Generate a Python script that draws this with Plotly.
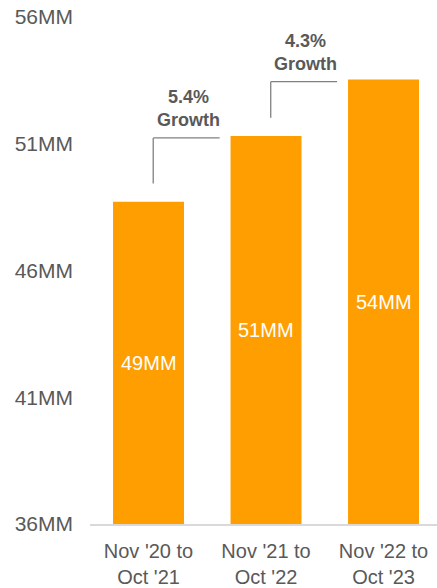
import plotly.graph_objects as go

categories = ["Nov '20 to<br>Oct '21", "Nov '21 to<br>Oct '22", "Nov '22 to<br>Oct '23"]
values = [48.71, 51.31, 53.53]
bar_labels = ["49MM", "51MM", "54MM"]
growth_labels = ["5.4%<br>Growth", "4.3%<br>Growth"]
y_ticks = [36, 41, 46, 51, 56]
y_ticktext = ["36MM", "41MM", "46MM", "51MM", "56MM"]

ORANGE = "#FF9E00"
GRAY_TXT = "#595959"
LINE = "#808080"
Y_MIN, Y_MAX = 36, 56

x_idx = list(range(len(categories)))

fig = go.Figure()
fig.add_trace(go.Bar(
    x=x_idx, y=values, marker_color=ORANGE, marker_line_width=0,
))

# value labels centred in the visible part of each bar
for i, lab in enumerate(bar_labels):
    fig.add_annotation(x=x_idx[i], y=(Y_MIN + values[i]) / 2, text=lab,
                       showarrow=False, xref="x", yref="y",
                       font=dict(size=20, color="white", family="Liberation Sans, Arial"))

# growth brackets: from bar i (left side) up to near top of bar i+1
for i, lab in enumerate(growth_labels):
    xv = x_idx[i] + 0.04
    xh = x_idx[i] + 0.605
    y0 = values[i] + 0.72
    y1 = values[i + 1] - 0.08
    fig.add_shape(type="line", x0=xv, x1=xv, y0=y0, y1=y1, xref="x", yref="y",
                  line=dict(color=LINE, width=1.3))
    fig.add_shape(type="line", x0=xv, x1=xh, y0=y1, y1=y1, xref="x", yref="y",
                  line=dict(color=LINE, width=1.3))
    fig.add_annotation(x=x_idx[i] + 0.34, y=y1 + 1.15, text="<b>" + lab + "</b>",
                       showarrow=False, xref="x", yref="y",
                       font=dict(size=18, color=GRAY_TXT, family="Liberation Sans, Arial"))

fig.update_layout(
    width=437, height=588,
    margin=dict(l=90, r=0, t=17, b=62),
    plot_bgcolor="white", paper_bgcolor="white",
    showlegend=False, bargap=0.396,
    font=dict(family="Liberation Sans, Arial", color=GRAY_TXT),
)
fig.update_xaxes(
    tickmode="array", tickvals=x_idx, ticktext=categories,
    range=[-0.498, 2.455], showline=True, linecolor="#d9d9d9", linewidth=2,
    showgrid=False, zeroline=False, ticks="", ticklabelstandoff=8,
    tickfont=dict(size=20, color=GRAY_TXT),
)
fig.update_yaxes(
    range=[Y_MIN, Y_MAX], tickmode="array", tickvals=y_ticks, ticktext=y_ticktext,
    showgrid=False, zeroline=False, showline=False, ticks="",
    ticklabelstandoff=16, tickfont=dict(size=21, color=GRAY_TXT),
)

fig.write_html("out.html")
